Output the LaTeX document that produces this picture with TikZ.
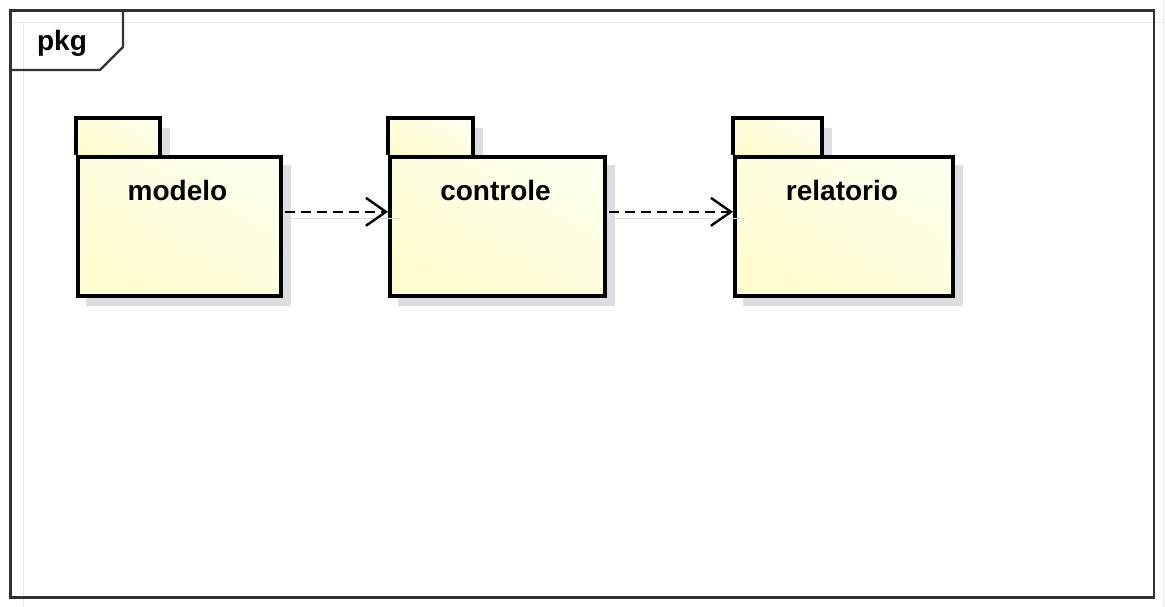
\documentclass[tikz,border=0pt]{standalone}
\usepackage{fontspec}
\setmainfont{Liberation Sans}
\usetikzlibrary{arrows.meta}
\definecolor{pkgtop}{RGB}{255,255,236}
\definecolor{pkgbot}{RGB}{255,253,206}
\definecolor{shadowc}{RGB}{222,222,226}
\definecolor{framec}{RGB}{50,50,50}
\tikzset{
  pkgline/.style={line width=3.6pt, draw=black},
  pkgfill/.style={top color=pkgtop, bottom color=pkgbot, shading angle=-30},
  pkgshadow/.style={fill=shadowc, draw=none},
  pkglabel/.style={font=\fontsize{28}{30}\selectfont\bfseries, anchor=base, inner sep=0pt},
  depend/.style={line width=2pt, dash pattern=on 10pt off 6pt,
    -{Straight Barb[length=20pt,width=28pt,line width=2.4pt]}},
  dependghost/.style={line width=1pt, draw=gray!25},
}
% one package: tab + body, named #1, top-left (#2,#3), body width #4, tab width #5
\newcommand{\umlpackage}[6]{%
  % shadows
  \fill[pkgshadow] (#2+10,#3-27) rectangle (#2+#5+10,#3+10);
  \fill[pkgshadow] (#2+10,#3+10) rectangle (#2+#4+12,#3+151);
  % tab
  \path[pkgfill] (#2,#3-37) rectangle (#2+#5,#3);
  \draw[pkgline] (#2,#3) -- (#2,#3-37) -- (#2+#5,#3-37) -- (#2+#5,#3);
  % body
  \node[pkgline, pkgfill, minimum width=#4pt, minimum height=139pt, anchor=north west,
        inner sep=0pt] (#1) at (#2,#3) {};
  \node[pkglabel] (#1-name) at (#2+#4/2,#3+45) {#6};
}
\begin{document}
\begin{tikzpicture}[x=1pt,y=-1pt]
  \useasboundingbox (0,0) rectangle (1165,606);
  \fill[white] (0,0) rectangle (1165,606);
  % faint inner frame lines
  \draw[gray!18, line width=1pt] (10,22.5) -- (1163,22.5);
  \draw[gray!18, line width=1pt] (23.5,22) -- (23.5,606);
  \draw[gray!18, line width=1pt] (1163,0) -- (1163,606);
  % outer frame
  \draw[framec, line width=2.2pt] (10.5,10.5) rectangle (1154,597.5);
  % frame name tab
  \draw[framec, line width=2.2pt] (123,10.5) -- (123,47) -- (100,70) -- (10.5,70);
  \node[font=\fontsize{28}{30}\selectfont\bfseries, anchor=base, inner sep=0pt] (pkgname) at (62,50) {pkg};
  % packages
  \umlpackage{modelo}{76}{155}{203}{84}{modelo}
  \umlpackage{controle}{388}{155}{215}{85}{controle}
  \umlpackage{relatorio}{733}{155}{218}{89}{relatorio}
  % dependency shadows
  \draw[dependghost] ([xshift=4pt,yshift=8pt]modelo.east) -- ([xshift=12pt,yshift=8pt]controle.west);
  \draw[dependghost] ([xshift=4pt,yshift=8pt]controle.east) -- ([xshift=12pt,yshift=8pt]relatorio.west);
  % dependencies
  \draw[depend] ([xshift=2pt,yshift=14.5pt]modelo.east) -- ([yshift=14.5pt]controle.west);
  \draw[depend] ([xshift=2pt,yshift=14.5pt]controle.east) -- ([yshift=14.5pt]relatorio.west);
\end{tikzpicture}
\end{document}
